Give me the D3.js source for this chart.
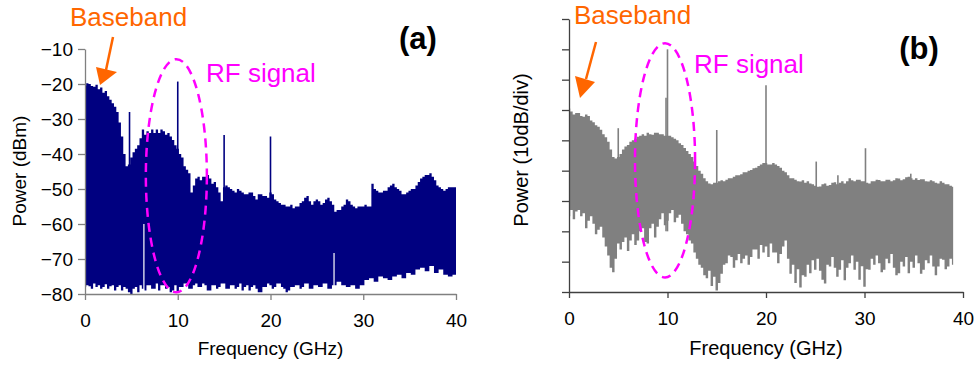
<!DOCTYPE html>
<html>
<head>
<meta charset="utf-8">
<script src="https://cdn.jsdelivr.net/npm/d3@7"></script>
<style>
  body { margin: 0; background: #fff; }
  svg { display: block; font-family: "Liberation Sans", Arial, sans-serif; }
</style>
</head>
<body>
<svg id="chart" width="977" height="366"></svg>
<script>
// ---- data (0.25 GHz steps) ----
const stepGHz = 0.25;

// panel (a): upper / lower envelope of the spectrum, dBm, 0..40 GHz (8 points per row = 2 GHz)
const upperA = [
  -20.5, -19.8, -20, -20.6, -20.8, -20.2, -21.5, -21,
  -22.5, -22, -23.5, -24.5, -25.5, -26.5, -28, -31,
  -35, -40, -43.5, -43, -41, -39.5, -38.5, -37.5,
  -35.5, -33, -34.5, -33.5, -34, -33, -34, -33,
  -34, -33, -33.5, -34.5, -34, -35, -36, -37.5,
  -38.5, -40, -41, -43.5, -44.5, -45.5, -51, -49,
  -47, -46.5, -47.5, -46.5, -46.5, -46, -47, -48.5,
  -48, -49.5, -51, -53.5, -49.5, -49, -49.5, -50,
  -50.5, -51, -50, -50.5, -51, -51.5, -51.5, -51,
  -51, -52, -53, -51.5, -51.5, -52, -52, -52.5,
  -51, -51.5, -53, -53.5, -54, -54.5, -54.5, -55,
  -55, -54.5, -55.5, -55, -55, -54, -53.5, -52.5,
  -52, -53.5, -54.5, -53.5, -53, -53.5, -54.5, -54,
  -53, -52.5, -53.5, -54.5, -56.5, -56, -56, -55,
  -54.5, -53, -53.5, -54.5, -55, -55.5, -55, -55,
  -55, -54.5, -55, -55, -48.5, -50, -50.5, -51,
  -51, -50.5, -50.5, -49.5, -49, -48.5, -49.5, -50,
  -50.5, -51.5, -51.5, -51, -50.5, -50, -50, -49,
  -48, -47, -46.5, -46, -46, -45.5, -46.5, -47.5,
  -49, -49.5, -50, -50.5, -50, -49.5, -49.5, -49.5,
  -49.5
];
const lowerA = [
  -78, -77.5, -77.8, -78.5, -77, -78, -77.5, -78.5,
  -78, -77.2, -78.5, -77.8, -77.5, -79, -78, -77.5,
  -79, -78, -78.5, -79.5, -80, -78.5, -78, -79.5,
  -77.5, -78.5, -79, -77.5, -77.5, -78.5, -78.5, -77,
  -79, -77.5, -77.5, -78.5, -78, -79.5, -79, -77.5,
  -79.5, -78, -78, -77, -77, -78.5, -78.5, -77.5,
  -77, -78, -78, -77, -77.5, -79, -79, -77.5,
  -77.5, -78.5, -78, -77, -77, -78.5, -78.5, -77.5,
  -77.5, -78.5, -78, -77, -79, -78, -77.5, -79,
  -78, -77.5, -78.5, -79.5, -79.5, -78, -78, -77,
  -77.5, -78.5, -78, -77, -77, -78, -78.5, -79.5,
  -79, -78, -78, -77.5, -77.5, -78.5, -78, -77,
  -77, -78.5, -78.5, -77.5, -77.5, -78, -78, -77,
  -77, -78.5, -78.5, -77.5, -77.5, -76.5, -76.5, -77.5,
  -77.5, -78, -78, -77.5, -77.5, -78.5, -78.5, -77.5,
  -77.5, -76, -76, -75.5, -75.5, -76.5, -76.5, -75,
  -75, -75.5, -75.5, -76, -76, -75, -75, -74.5,
  -74.5, -75.5, -75.5, -74, -74, -74.5, -74.5, -73,
  -73, -72.5, -72.5, -73.5, -73.5, -72, -72, -74,
  -74, -73, -73, -74.5, -74.5, -75, -75, -74.5,
  -74.5
];
// discrete tones in (a): [GHz, dBm]
const spikesA = [[4.8, -28], [10, -19.3], [15, -34.6], [20, -35]];
// thin gaps in the (a) noise floor: [GHz, top dBm]
const gapsA = [[6.35, -60], [26.85, -68.3]];

// panel (b): relative power in dB above the bottom of the axis, 0..39 GHz
const upperB = [
  60.5, 59.5, 58.5, 59, 59, 58, 57.8, 58.5,
  58, 56.5, 56, 55, 54.5, 53.5, 52, 51,
  49.5, 47, 44.5, 44, 44.5, 45.5, 47, 48,
  48.5, 49.5, 50, 50.5, 51.2, 51.5, 52, 51.5,
  52.5, 52, 51.8, 52.5, 52.5, 52, 52, 51.5,
  51.5, 51.5, 51, 50.5, 50, 49, 48.5, 47.5,
  46.5, 45.5, 44.5, 43, 41.5, 40, 39, 37.5,
  36.5, 35.8, 35.5, 36, 36, 36.5, 36.8, 36.5,
  37, 37.5, 37.5, 38, 38.5, 38.5, 38.8, 39.5,
  39.5, 40, 40.2, 40.8, 41, 41.5, 42, 42.5,
  42.5, 42, 42, 42.5, 42, 41.5, 41, 40,
  39.5, 38.5, 37.5, 37.5, 37, 36.5, 36.4, 36.8,
  36, 36.5, 35.8, 35.5, 35, 34.7, 34.8, 35.5,
  35.8, 35, 35.3, 36, 36.2, 35.5, 36, 36.5,
  35.8, 36.5, 37.5, 36.8, 36.5, 37, 37, 36.5,
  36.5, 36, 35.8, 36.5, 36.5, 37, 36.9, 36.5,
  36.5, 37, 37, 36.5, 36.8, 37.5, 37.4, 36.8,
  37.2, 37.8, 38, 37.5, 37, 37.5, 36.9, 37.2,
  37.2, 36.5, 36.4, 36.8, 36.5, 36, 35.8, 36.5,
  36, 35.5, 35.5, 35, 34.7
];
const lowerB = [
  25, 27, 24, 26.5, 27, 25, 26, 21,
  23.5, 25, 22.5, 19, 20.5, 21.5, 18, 15,
  12, 8, 6.5, 11, 16, 14, 16.5, 18,
  13.5, 17, 19, 15.5, 17, 20, 21, 16.5,
  16, 21, 22.5, 18, 21.5, 24, 26, 22,
  23.5, 26, 27, 23, 24.5, 25.5, 22.5, 20,
  19, 17, 16, 13, 11, 9, 8, 5.5,
  4.5, 7, 2, 5, 0.5, 3, 6, 9,
  9.5, 12, 11.5, 8, 10.5, 12.5, 9.5, 11,
  12, 9, 11.5, 14, 14, 11, 15.5, 13,
  15, 11.5, 16, 13, 13, 9.5, 12.5, 15,
  17, 11, 6, 9, 3, 7.5, 1.5, 5.5,
  5, 9, 6.2, 10.5, 7.3, 11, 7, 4,
  2.8, 9, 8.4, 11.5, 8, 5, 7.3, 10.5,
  3.9, 8, 9.5, 12, 7.3, 10, 4, 8.5,
  1.7, 7.5, 7.3, 11, 9, 12, 9.5, 6.5,
  7.3, 11, 9.5, 12.5, 8, 5.5, 6.2, 10,
  8.4, 11.5, 6.2, 10, 8, 12, 9.5, 6,
  7.3, 10.5, 9.5, 12, 8.4, 5.5, 8.4, 11,
  10.6, 7.5, 8.4, 11, 9
];
const spikesB = [[5, 54], [9.85, 64], [10, 80], [15, 53.4], [20, 68.2], [25.1, 43], [27.3, 38.5], [30.1, 47.4], [34.7, 39]];

const xTicks = [0, 10, 20, 30, 40];
const yTicksA = [-80, -70, -60, -50, -40, -30, -20, -10];
const yTicksB = [0, 10, 20, 30, 40, 50, 60, 70, 80, 90];

const svg = d3.select('#chart');

function toRows(hi, lo) {
  return hi.map((v, i) => ({ f: i * stepGHz, hi: v, lo: lo[i] }));
}

function drawPanel(p) {
  const x = d3.scaleLinear().domain([0, 40]).range(p.xRange);
  const y = d3.scaleLinear().domain(p.yDomain).range(p.yRange);
  const g = svg.append('g');

  const clipId = 'clip-' + p.id;
  svg.append('clipPath').attr('id', clipId)
    .append('rect')
    .attr('x', p.xRange[0]).attr('y', p.yRange[1] - 30)
    .attr('width', p.xRange[1] - p.xRange[0]).attr('height', p.yRange[0] - p.yRange[1] + 30);

  const plot = g.append('g').attr('clip-path', `url(#${clipId})`);
  const area = d3.area()
    .x(d => x(d.f))
    .y0(d => y(d.lo))
    .y1(d => y(d.hi))
    .curve(d3.curveStep);
  plot.append('path')
    .datum(toRows(p.upper, p.lower))
    .attr('d', area)
    .attr('fill', p.color);

  plot.selectAll('.spike')
    .data(p.spikes)
    .join('line')
    .attr('class', 'spike')
    .attr('x1', d => x(d[0])).attr('x2', d => x(d[0]))
    .attr('y1', y(p.yDomain[0] + 20)).attr('y2', d => y(d[1]))
    .attr('stroke', p.color).attr('stroke-width', 1.6);

  plot.selectAll('.gap')
    .data(p.gaps || [])
    .join('line')
    .attr('class', 'gap')
    .attr('x1', d => x(d[0])).attr('x2', d => x(d[0]))
    .attr('y1', d => y(d[1])).attr('y2', y(p.yDomain[0]) - 2)
    .attr('stroke', '#fff').attr('stroke-width', 1.2);

  // axes
  const xAxis = g.append('g')
    .attr('transform', `translate(0,${p.yRange[0]})`)
    .call(d3.axisBottom(x).tickValues(xTicks).tickSize(6).tickSizeOuter(0).tickPadding(14));
  const yAxis = g.append('g')
    .attr('transform', `translate(${p.xRange[0]},0)`)
    .call(d3.axisLeft(y).tickValues(p.yTicks).tickSize(7).tickSizeOuter(0).tickPadding(5)
      .tickFormat(p.yLabels ? d3.format('d') : ''));
  [xAxis, yAxis].forEach(a => {
    a.selectAll('path,line').attr('stroke', p.axisColor).attr('stroke-width', 1.3);
    a.selectAll('text').attr('fill', '#000').style('font-size', p.tickSize)
      .style('font-family', '"Liberation Sans", Arial, sans-serif');
  });

  g.append('text')
    .attr('x', (p.xRange[0] + p.xRange[1]) / 2)
    .attr('y', 355)
    .attr('text-anchor', 'middle')
    .style('font-size', p.titleSize)
    .text('Frequency (GHz)');
  g.append('text')
    .attr('transform', `translate(${p.yTitleX},${p.yTitleY}) rotate(-90)`)
    .attr('text-anchor', 'middle')
    .style('font-size', p.titleSize)
    .text(p.yTitle);

  // annotations
  const e = p.ellipse;
  g.append('ellipse')
    .attr('cx', x(e.f)).attr('cy', y(e.v))
    .attr('rx', x(e.f + e.df) - x(e.f))
    .attr('ry', y(e.v - e.dv) - y(e.v))
    .attr('fill', 'none').attr('stroke', '#ff00ff')
    .attr('stroke-width', 2.5).attr('stroke-dasharray', '9,6');

  const a = p.arrow;
  g.append('line')
    .attr('x1', a.from[0]).attr('y1', a.from[1])
    .attr('x2', a.base[0]).attr('y2', a.base[1])
    .attr('stroke', '#ff6600').attr('stroke-width', 2.5);
  g.append('polygon')
    .attr('points', a.head.map(pt => pt.join(',')).join(' '))
    .attr('fill', '#ff6600');

  g.append('text').attr('x', p.baseband[0]).attr('y', p.baseband[1])
    .attr('fill', '#ff6600').style('font-size', '26px').text('Baseband');
  g.append('text').attr('x', p.rf[0]).attr('y', p.rf[1])
    .attr('fill', '#ff00ff').style('font-size', '26px').text('RF signal');
  g.append('text').attr('x', p.tag[0]).attr('y', p.tag[1])
    .attr('text-anchor', 'middle')
    .style('font-size', '31px').style('font-weight', 'bold').text(p.tagText);
}

drawPanel({
  id: 'a', xRange: [85, 456], yDomain: [-80, -10], yRange: [294, 49],
  upper: upperA, lower: lowerA, spikes: spikesA, gaps: gapsA,
  color: '#000080', axisColor: '#808080', yTicks: yTicksA, yLabels: true,
  tickSize: '19px', titleSize: '19px',
  yTitle: 'Power (dBm)', yTitleX: 26, yTitleY: 171,
  ellipse: { f: 9.85, v: -46.2, df: 3.29, dv: 33.3 },
  arrow: { from: [113, 37], base: [106, 70], head: [[96, 67], [117, 72], [100, 85]] },
  baseband: [70, 26], rf: [206, 82], tag: [418, 49], tagText: '(a)'
});

drawPanel({
  id: 'b', xRange: [569, 963], yDomain: [0, 90], yRange: [292, 19],
  upper: upperB, lower: lowerB, spikes: spikesB,
  color: '#808080', axisColor: '#404040', yTicks: yTicksB, yLabels: false,
  tickSize: '19px', titleSize: '20px',
  yTitle: 'Power (10dB/div)', yTitleX: 528, yTitleY: 150,
  ellipse: { f: 9.75, v: 43.4, df: 3.05, dv: 38.6 },
  arrow: { from: [596, 42], base: [586, 79], head: [[575, 76], [595, 82], [580, 98]] },
  baseband: [574, 24], rf: [694, 73], tag: [919, 59], tagText: '(b)'
});
</script>
</body>
</html>
